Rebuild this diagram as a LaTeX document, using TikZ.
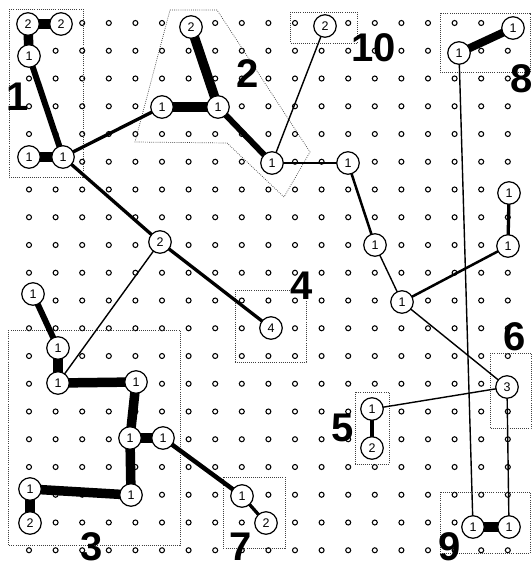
\documentclass[tikz,border=0pt]{standalone}
\usepackage{fontspec}
\setmainfont{Liberation Sans}
\usetikzlibrary{backgrounds}
\begin{document}
\begin{tikzpicture}[x=1pt,y=-1pt,
  bn/.style={circle,draw,line width=1.2pt,fill=white,minimum size=22.5pt,inner sep=0pt,font=\fontsize{12.5}{14}\selectfont},
  lab/.style={inner sep=0pt,font=\fontsize{40}{44}\selectfont\bfseries},
  region/.style={draw=black!75,line width=0.7pt,dash pattern=on 0.8pt off 1.3pt},
  dotc/.style={line width=1.05pt},
  wA/.style={line width=9.5pt},
  wB/.style={line width=6pt},
  wC/.style={line width=4.5pt},
  wD/.style={line width=3.3pt},
  wE/.style={line width=2.5pt},
  wF/.style={line width=1.4pt}]
\useasboundingbox (0,0) rectangle (532,568);
% big nodes
\node[bn] (A) at (28,24) {2};
\node[bn] (B) at (61,24) {2};
\node[bn] (C) at (29,56) {1};
\node[bn] (D) at (29,157) {1};
\node[bn] (E) at (63,157) {1};
\node[bn] (F) at (162,107) {1};
\node[bn] (G) at (191,27) {2};
\node[bn] (H) at (218,107) {1};
\node[bn] (I) at (272,163) {1};
\node[bn] (J) at (325,26) {2};
\node[bn] (K) at (348,163) {1};
\node[bn] (L) at (459,53) {1};
\node[bn] (M) at (513,28) {1};
\node[bn] (N) at (509,193) {1};
\node[bn] (O) at (508,246) {1};
\node[bn] (P) at (375,245) {1};
\node[bn] (Q) at (402,302) {1};
\node[bn] (R) at (160,242) {2};
\node[bn] (S) at (271,328) {4};
\node[bn] (T) at (507,387) {3};
\node[bn] (U) at (372,409) {1};
\node[bn] (V) at (372,448) {2};
\node[bn] (W) at (33,294) {1};
\node[bn] (X) at (58,348) {1};
\node[bn] (Y) at (58,383) {1};
\node[bn] (Z) at (136,382) {1};
\node[bn] (a) at (130,438) {1};
\node[bn] (b) at (163,438) {1};
\node[bn] (c) at (131,495) {1};
\node[bn] (d) at (30,489) {1};
\node[bn] (e) at (30,523) {2};
\node[bn] (f) at (242,496) {1};
\node[bn] (g) at (266,523) {2};
\node[bn] (h) at (473,527) {1};
\node[bn] (i) at (509,527) {1};
% region labels
\node[lab] (l1) at (18,97) {1};
\node[lab] (l2) at (248,74) {2};
\node[lab] (l3) at (92,547) {3};
\node[lab] (l4) at (302,286) {4};
\node[lab] (l5) at (343,428) {5};
\node[lab] (l6) at (515,337) {6};
\node[lab] (l7) at (241,547) {7};
\node[lab] (l8) at (522,79) {8};
\node[lab] (l9) at (450,547) {9};
\node[lab] (l10) at (374,48) {10};
\begin{pgfonlayer}{background}
% grid of small circles
\foreach \ci/\ri in {0/0,1/0,0/1,0/5,1/5,5/3,6/0,7/3,9/5,11/0,12/5,16/1,18/0,18/6,18/8,13/8,14/10,5/8,9/11,18/13,13/14,13/15,0/10,1/12,1/13,4/13,4/15,5/15,4/17,0/17,0/18,8/17,9/18,17/18,18/18}
  {\expandafter\gdef\csname sk@\ci @\ri\endcsname{}}
\foreach \ci in {0,...,18}{\foreach \ri in {0,...,19}{%
  \ifcsname sk@\ci @\ri\endcsname\else
  \draw[dotc] ({29+26.6*\ci},{23+27.75*\ri}) circle (2.5pt);
  \fi}}
% regions
\draw[region] (9,9) rectangle (83,177);
\draw[region] (170,10) -- (217,10) -- (310,152) -- (284,197) -- (227,143) -- (135,142) -- cycle;
\draw[region] (290,12) rectangle (357,43);
\draw[region] (440,13) rectangle (530,72);
\draw[region] (235,290) rectangle (306,362);
\draw[region] (8,330) rectangle (180,545);
\draw[region] (490,353) rectangle (531,428);
\draw[region] (355,392) rectangle (389,464);
\draw[region] (440,492) rectangle (530,553);
\draw[region] (223,477) rectangle (285,548);
% connectors
\draw[wA] (A.center) -- (B.center);
\draw[wA] (A.center) -- (C.center);
\draw[wA] (D.center) -- (E.center);
\draw[wA] (G.center) -- (H.center);
\draw[wA] (F.center) -- (H.center);
\draw[wA] (h.center) -- (i.center);
\draw[line width=8pt] (L.center) -- (M.center);
\draw[wA] (X.center) -- (Y.center);
\draw[wA] (Y.center) -- (Z.center);
\draw[wA] (Z.center) -- (a.center);
\draw[wA] (a.center) -- (b.center);
\draw[wA] (a.center) -- (c.center);
\draw[wA] (d.center) -- (c.center);
\draw[wA] (d.center) -- (e.center);
\draw[wB] (C.center) -- (E.center);
\draw[wB] (H.center) -- (I.center);
\draw[wB] (W.center) -- (X.center);
\draw[wC] (b.center) -- (f.center);
\draw[wC] (U.center) -- (V.center);
\draw[wD] (f.center) -- (g.center);
\draw[wD] (E.center) -- (F.center);
\draw[wD] (E.center) -- (R.center);
\draw[wD] (R.center) -- (S.center);
\draw[wD] (N.center) -- (O.center);
\draw[wE] (I.center) -- (K.center);
\draw[wE] (Q.center) -- (O.center);
\draw[wE] (K.center) -- (P.center);
\draw[wF] (R.center) -- (Y.center);
\draw[wF] (I.center) -- (J.center);
\draw[wF] (P.center) -- (Q.center);
\draw[wF] (Q.center) -- (T.center);
\draw[wF] (T.center) -- (U.center);
\draw[wF] (T.center) -- (i.center);
\draw[wF] (L.center) -- (h.center);
\end{pgfonlayer}
\end{tikzpicture}
\end{document}
